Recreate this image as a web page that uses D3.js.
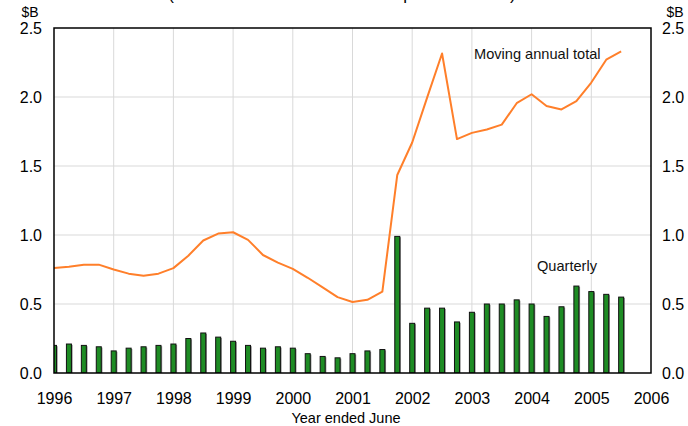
<!DOCTYPE html>
<html>
<head>
<meta charset="utf-8">
<script src="https://cdn.jsdelivr.net/npm/d3@7"></script>
<style>
  body { margin: 0; background: #fff; }
  svg { display: block; font-family: "Liberation Sans", Arial, sans-serif; }
</style>
</head>
<body>
<div id="chart"></div>
<script>
// quarters, year ended June (Jun = start of the financial year tick)
var periods = [
  'Jun 1996', 'Sep 1996', 'Dec 1996', 'Mar 1997',
  'Jun 1997', 'Sep 1997', 'Dec 1997', 'Mar 1998',
  'Jun 1998', 'Sep 1998', 'Dec 1998', 'Mar 1999',
  'Jun 1999', 'Sep 1999', 'Dec 1999', 'Mar 2000',
  'Jun 2000', 'Sep 2000', 'Dec 2000', 'Mar 2001',
  'Jun 2001', 'Sep 2001', 'Dec 2001', 'Mar 2002',
  'Jun 2002', 'Sep 2002', 'Dec 2002', 'Mar 2003',
  'Jun 2003', 'Sep 2003', 'Dec 2003', 'Mar 2004',
  'Jun 2004', 'Sep 2004', 'Dec 2004', 'Mar 2005',
  'Jun 2005', 'Sep 2005', 'Dec 2005'
];

var quarterly = [0.20, 0.21, 0.20, 0.19, 0.16, 0.18, 0.19, 0.20, 0.21, 0.25,
  0.29, 0.26, 0.23, 0.20, 0.18, 0.19, 0.18, 0.14, 0.12, 0.11,
  0.14, 0.16, 0.17, 0.99, 0.36, 0.47, 0.47, 0.37, 0.44, 0.50,
  0.50, 0.53, 0.50, 0.41, 0.48, 0.63, 0.59, 0.57, 0.55];

var annual = [0.76, 0.77, 0.785, 0.785, 0.75, 0.72, 0.705, 0.72, 0.76, 0.85,
  0.96, 1.01, 1.02, 0.965, 0.855, 0.80, 0.755, 0.69, 0.62, 0.55,
  0.515, 0.53, 0.59, 1.435, 1.67, 1.995, 2.315, 1.695, 1.74, 1.765,
  1.80, 1.955, 2.02, 1.935, 1.91, 1.97, 2.105, 2.27, 2.33];

var yearTicks = [1996, 1997, 1998, 1999, 2000, 2001, 2002, 2003, 2004, 2005, 2006];
var valueTicks = [0, 0.5, 1.0, 1.5, 2.0, 2.5];

var titleText = '(Value of all new investment at prices of 2005)';

//constants
var width = 688,
  height = 426,
  margin = {top: 28, right: 37, bottom: 53, left: 54};

var monthOffset = {Jun: 0, Sep: 0.25, Dec: 0.5, Mar: -0.25};
function toYear(p) {
  var parts = p.split(' ');
  return +parts[1] + monthOffset[parts[0]];
}

var svg = d3.select('#chart')
  .append('svg')
  .attr('width', width)
  .attr('height', height);

var x = d3.scaleLinear()
  .domain([1996, 2006])
  .range([margin.left, width - margin.right]);

var y = d3.scaleLinear()
  .domain([0, 2.5])
  .range([height - margin.bottom, margin.top]);

var x0 = x.range()[0], x1 = x.range()[1],
  yb = y.range()[0], yt = y.range()[1];

svg.append('defs').append('clipPath')
  .attr('id', 'plot-clip')
  .append('rect')
  .attr('x', x0)
  .attr('y', yt)
  .attr('width', x1 - x0)
  .attr('height', yb - yt);

// title, cut off at the very top as in the original
svg.append('text')
  .attr('x', 342)
  .attr('y', 0)
  .attr('text-anchor', 'middle')
  .attr('font-size', '17px')
  .attr('fill', '#000')
  .text(titleText);

// grid
svg.append('g')
  .selectAll('line')
  .data(yearTicks.slice(1, -1))
  .enter()
  .append('line')
  .attr('x1', function(d) { return x(d); })
  .attr('x2', function(d) { return x(d); })
  .attr('y1', yt)
  .attr('y2', yb)
  .attr('stroke', '#d9d9d9')
  .attr('stroke-width', 1);

svg.append('g')
  .selectAll('line')
  .data(valueTicks.slice(1, -1))
  .enter()
  .append('line')
  .attr('x1', x0)
  .attr('x2', x1)
  .attr('y1', function(d) { return y(d); })
  .attr('y2', function(d) { return y(d); })
  .attr('stroke', '#d9d9d9')
  .attr('stroke-width', 1);

var plot = svg.append('g').attr('clip-path', 'url(#plot-clip)');

// quarterly bars (grey shadow then bar)
var barW = 5;
plot.append('g')
  .selectAll('rect')
  .data(quarterly)
  .enter()
  .append('rect')
  .attr('x', function(d, i) { return x(toYear(periods[i])) - barW / 2 + 1.2; })
  .attr('y', function(d) { return y(d) + 0.8; })
  .attr('width', barW)
  .attr('height', function(d) { return yb - y(d); })
  .attr('fill', '#8c8c8c');

plot.append('g')
  .selectAll('rect')
  .data(quarterly)
  .enter()
  .append('rect')
  .attr('x', function(d, i) { return x(toYear(periods[i])) - barW / 2; })
  .attr('y', function(d) { return y(d); })
  .attr('width', barW)
  .attr('height', function(d) { return yb - y(d); })
  .attr('fill', '#1e8c24')
  .attr('stroke', '#111')
  .attr('stroke-width', 1);

// moving annual total
var line = d3.line()
  .x(function(d, i) { return x(toYear(periods[i])); })
  .y(function(d) { return y(d); });

plot.append('path')
  .datum(annual)
  .attr('d', line)
  .attr('fill', 'none')
  .attr('stroke', '#ff7f2a')
  .attr('stroke-width', 2)
  .attr('stroke-linejoin', 'round');

// frame
svg.append('rect')
  .attr('x', x0)
  .attr('y', yt)
  .attr('width', x1 - x0)
  .attr('height', yb - yt)
  .attr('fill', 'none')
  .attr('stroke', '#000')
  .attr('stroke-width', 1.5);

// axes
var fmt = d3.format('.1f');

var leftAxis = svg.append('g')
  .attr('transform', 'translate(' + x0 + ',0)')
  .call(d3.axisLeft(y).tickValues(valueTicks).tickFormat(fmt).tickSize(0).tickPadding(12));

var rightAxis = svg.append('g')
  .attr('transform', 'translate(' + x1 + ',0)')
  .call(d3.axisRight(y).tickValues(valueTicks).tickFormat(fmt).tickSize(0).tickPadding(11));

var bottomAxis = svg.append('g')
  .attr('transform', 'translate(0,' + yb + ')')
  .call(d3.axisBottom(x).tickValues(yearTicks).tickFormat(d3.format('d')).tickSize(0).tickPadding(20));

[leftAxis, rightAxis, bottomAxis].forEach(function(a) {
  a.select('.domain').remove();
  a.selectAll('text')
    .attr('font-family', '"Liberation Sans", Arial, sans-serif')
    .attr('font-size', '16px')
    .attr('fill', '#000');
});

// units
svg.append('text')
  .attr('x', 30)
  .attr('y', 17)
  .attr('text-anchor', 'middle')
  .attr('font-size', '14px')
  .text('$B');

svg.append('text')
  .attr('x', 675)
  .attr('y', 17)
  .attr('text-anchor', 'middle')
  .attr('font-size', '14px')
  .text('$B');

svg.append('text')
  .attr('x', 346)
  .attr('y', 423)
  .attr('text-anchor', 'middle')
  .attr('font-size', '14.5px')
  .text('Year ended June');

// series labels
svg.append('text')
  .attr('x', 474)
  .attr('y', 59)
  .attr('font-size', '14.6px')
  .attr('fill', '#111')
  .text('Moving annual total');

svg.append('text')
  .attr('x', 537)
  .attr('y', 271)
  .attr('font-size', '14.6px')
  .attr('fill', '#111')
  .text('Quarterly');
</script>
</body>
</html>
